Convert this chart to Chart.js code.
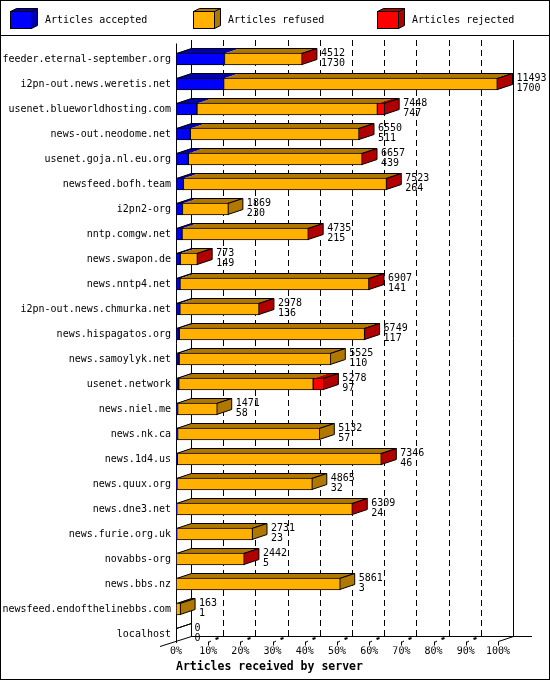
<!DOCTYPE html>
<html>
<head>
<meta charset="utf-8">
<script src="https://cdn.jsdelivr.net/npm/chart.js@4.4.1/dist/chart.umd.min.js"></script>
<style>
html,body{margin:0;padding:0;background:#fff;}
#wrap{width:550px;height:680px;position:relative;}
</style>
</head>
<body>
<div id="wrap"><canvas id="c"></canvas></div>
<script>
// ---- data ----
const categories = [
  'feeder.eternal-september.org', 'i2pn-out.news.weretis.net', 'usenet.blueworldhosting.com',
  'news-out.neodome.net', 'usenet.goja.nl.eu.org', 'newsfeed.bofh.team', 'i2pn2-org',
  'nntp.comgw.net', 'news.swapon.de', 'news.nntp4.net', 'i2pn-out.news.chmurka.net',
  'news.hispagatos.org', 'news.samoylyk.net', 'usenet.network', 'news.niel.me', 'news.nk.ca',
  'news.1d4.us', 'news.quux.org', 'news.dne3.net', 'news.furie.org.uk', 'novabbs-org',
  'news.bbs.nz', 'newsfeed.endofthelinebbs.com', 'localhost'
];
const offered  = [4512, 11493, 7448, 6550, 6657, 7523, 1869, 4735, 773, 6907, 2978, 6749, 5525, 5278, 1471, 5132, 7346, 4865, 6309, 2731, 2442, 5861, 163, 0];
const accepted = [1730, 1700, 747, 511, 439, 264, 230, 215, 149, 141, 136, 117, 110, 97, 58, 57, 46, 32, 24, 23, 5, 3, 1, 0];
const refused  = [2770, 9768, 6441, 6021, 6203, 7249, 1639, 4506, 614, 6744, 2827, 6614, 5415, 4801, 1413, 5075, 7280, 4833, 6270, 2708, 2429, 5858, 162, 0];
const rejected = [12, 25, 260, 18, 15, 10, 0, 14, 10, 22, 15, 18, 0, 380, 0, 0, 20, 0, 15, 0, 8, 0, 0, 0];
const seriesLabels = ['Articles accepted', 'Articles refused', 'Articles rejected'];
const tickValues = [0, 10, 20, 30, 40, 50, 60, 70, 80, 90, 100];
const axisTitle = 'Articles received by server';

// ---- styling ----
const FONT = "'DejaVu Sans Mono', 'Liberation Mono', monospace";
const frontColors = ['#0000ff', '#ffb000', '#ff0000'];
const shadeColors = ['#0000b0', '#b07800', '#b00000'];
const DX = 15, DY = 5;

const series = [accepted, refused, rejected];
const maxTotal = Math.max(...offered);
const pct = v => v / maxTotal * 100;

Chart.defaults.font.family = FONT;
Chart.defaults.color = '#000';

function line(ctx, x1, y1, x2, y2) {
  ctx.beginPath(); ctx.moveTo(x1, y1); ctx.lineTo(x2, y2); ctx.stroke();
}

const depth3d = {
  id: 'depth3d',
  beforeDraw(chart) {
    const {ctx, width, height} = chart;
    ctx.save();
    ctx.fillStyle = '#fff';
    ctx.fillRect(0, 0, width, height);
    ctx.restore();
  },
  beforeDatasetsDraw(chart) {
    const {ctx, chartArea: a, scales: {x}} = chart;
    ctx.save();
    ctx.strokeStyle = '#000';
    ctx.lineWidth = 1;
    const left = Math.round(a.left), right = Math.round(a.right);
    const topY = a.top - 6.5;
    const floorFront = Math.round(a.bottom - 6) + 0.5;
    const floorBack = floorFront - DY;

    // back-plane dashed grid
    ctx.setLineDash([6, 4]);
    tickValues.slice(1, -1).forEach(v => {
      const px = Math.round(x.getPixelForValue(v)) + DX + 0.5;
      line(ctx, px, topY, px, floorBack);
    });
    ctx.setLineDash([]);
    // walls
    line(ctx, left + DX + 0.5, topY, left + DX + 0.5, floorBack);
    line(ctx, right + DX + 0.5, topY, right + DX + 0.5, floorBack);
    line(ctx, left + DX, floorBack, right + DX + 19, floorBack);
    // front axis
    line(ctx, left + 0.5, a.top - 3, left + 0.5, floorFront + 1.5);
    // floor edges
    line(ctx, left - 16, floorFront + 5, left + DX + 0.5, floorBack);
    line(ctx, right + 0.5, floorFront, right + DX + 0.5, floorBack);
    // front ticks
    tickValues.forEach((v, k) => {
      const px = Math.round(x.getPixelForValue(v)) + 0.5;
      if (k > 0) line(ctx, px, floorFront, px, floorFront + 4);
      if (k > 0 && k < tickValues.length - 1) {
        line(ctx, px, floorFront + 1, px + 2.5, floorFront - 0.5);
        ctx.lineWidth = 2;
        line(ctx, px + 7, floorFront - 2.5, px + 10, floorFront - 3.5);
        ctx.lineWidth = 1;
      }
    });

    // 3D top faces and end caps
    const metas = series.map((s, d) => chart.getDatasetMeta(d));
    categories.forEach((c, i) => {
      const els = metas.map(m => m.data[i]);
      const y = els[0].y, h = els[0].height;
      const t = Math.round(y - h / 2) + 0.5;
      const b = t + Math.round(h) - 1;
      const start = Math.round(els[0].base) + 0.5;
      let end = start;
      els.forEach((el, d) => {
        const l = Math.min(el.base, el.x), r = Math.max(el.base, el.x);
        if (r - l > 0.01) {
          ctx.fillStyle = shadeColors[d];
          ctx.beginPath();
          ctx.moveTo(l, t); ctx.lineTo(l + DX, t - DY); ctx.lineTo(r + DX, t - DY); ctx.lineTo(r, t);
          ctx.closePath(); ctx.fill();
          end = Math.max(end, r - 0.5);
        }
      });
      ctx.beginPath();
      ctx.moveTo(start, t); ctx.lineTo(start + DX, t - DY); ctx.lineTo(end + DX, t - DY); ctx.lineTo(end, t);
      ctx.stroke();
      let last = -1;
      for (let d = series.length - 1; d >= 0; d--) { if (series[d][i] > 0) { last = d; break; } }
      if (last >= 0) {
        ctx.fillStyle = shadeColors[last];
        ctx.beginPath();
        ctx.moveTo(end, t); ctx.lineTo(end + DX, t - DY); ctx.lineTo(end + DX, b - DY); ctx.lineTo(end, b);
        ctx.closePath(); ctx.fill(); ctx.stroke();
      }
    });
    ctx.restore();
  },
  afterDatasetsDraw(chart) {
    const {ctx} = chart;
    const metas = series.map((s, d) => chart.getDatasetMeta(d));
    ctx.save();
    ctx.font = '10px ' + FONT;
    ctx.fillStyle = '#000';
    ctx.textAlign = 'left';
    ctx.textBaseline = 'middle';
    categories.forEach((c, i) => {
      const els = metas.map(m => m.data[i]);
      const end = Math.max(...els.map(e => Math.max(e.x, e.base)));
      const y = els[0].y;
      ctx.fillText(String(offered[i]), end + 18.5, y - 6);
      ctx.fillText(String(accepted[i]), end + 18.5, y + 4.5);
    });
    ctx.restore();
  },
  afterDraw(chart) {
    const {ctx, width, height} = chart;
    ctx.save();
    ctx.strokeStyle = '#000';
    ctx.lineWidth = 1;
    ctx.strokeRect(0.5, 0.5, width - 1, height - 1);
    line(ctx, 0, 35.5, width, 35.5);
    ctx.font = '10px ' + FONT;
    ctx.textBaseline = 'middle';
    ctx.textAlign = 'left';
    seriesLabels.forEach((lab, d) => {
      const x0 = Math.round(10 + d * (width / 3)) + 0.5;
      const y0 = 11.5, w = 21, h = 17, dx = 6, dy = 3;
      ctx.fillStyle = shadeColors[d];
      ctx.beginPath();
      ctx.moveTo(x0, y0); ctx.lineTo(x0 + dx, y0 - dy); ctx.lineTo(x0 + w + dx, y0 - dy);
      ctx.lineTo(x0 + w + dx, y0 + h - dy); ctx.lineTo(x0 + w, y0 + h); ctx.lineTo(x0 + w, y0);
      ctx.closePath(); ctx.fill(); ctx.stroke();
      line(ctx, x0 + w, y0, x0 + w + dx, y0 - dy);
      ctx.fillStyle = frontColors[d];
      ctx.fillRect(x0, y0, w, h);
      ctx.strokeRect(x0, y0, w, h);
      ctx.fillStyle = '#000';
      ctx.fillText(lab, x0 + 34.5, 20);
    });
    ctx.restore();
  }
};

new Chart(document.getElementById('c'), {
  type: 'bar',
  data: {
    labels: categories,
    datasets: series.map((arr, d) => ({
      label: seriesLabels[d],
      data: arr.map(pct),
      backgroundColor: frontColors[d],
      borderColor: '#000',
      borderWidth: 1,
      borderSkipped: false,
      barThickness: 12
    }))
  },
  options: {
    indexAxis: 'y',
    responsive: true,
    maintainAspectRatio: false,
    animation: false,
    layout: {padding: {top: 46.5, right: 52, bottom: 0, left: 0}},
    plugins: {legend: {display: false}, tooltip: {enabled: false}},
    scales: {
      x: {
        stacked: true,
        min: 0, max: 100,
        afterBuildTicks: s => { s.ticks = tickValues.map(v => ({value: v})); },
        grid: {display: false, drawTicks: false},
        border: {display: false},
        ticks: {
          callback: v => v + '%',
          font: {size: 10, family: FONT},
          color: '#000',
          padding: -1,
          maxRotation: 0,
          autoSkip: false
        },
        title: {
          display: true,
          text: axisTitle,
          align: 'start',
          font: {size: 11.5, weight: 'bold', family: FONT},
          color: '#000',
          padding: {top: 0, bottom: 6}
        },
        afterFit: s => { s.height = 33.5; }
      },
      y: {
        stacked: true,
        grid: {display: false, drawTicks: false},
        border: {display: false},
        ticks: {font: {size: 10, family: FONT}, color: '#000', padding: 5, autoSkip: false},
        afterFit: s => { s.width = 176; }
      }
    }
  },
  plugins: [depth3d]
});
</script>
</body>
</html>
